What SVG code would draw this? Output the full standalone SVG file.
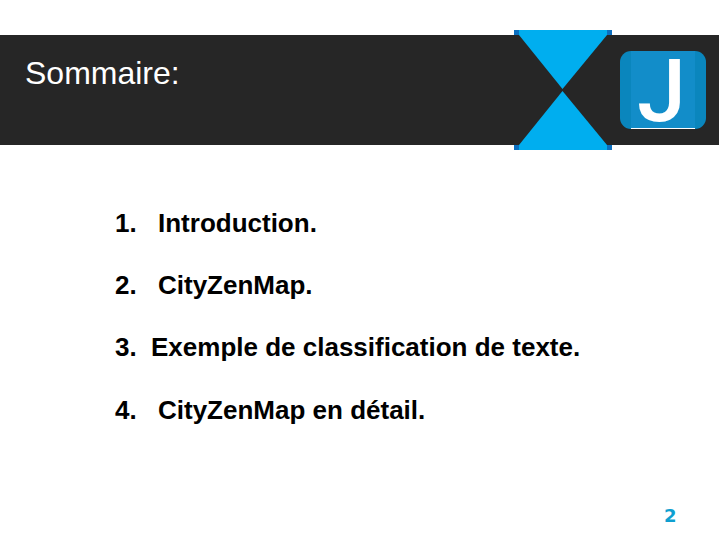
<svg xmlns="http://www.w3.org/2000/svg" width="720" height="540" viewBox="0 0 720 540">
<style>
.b{font-family:"Liberation Sans",Arial,sans-serif;font-size:26px;font-weight:700;fill:#000}
.t{fill:#00aeef}
.c{fill:#0b6fc0}
</style>
<rect width="720" height="540" fill="#fff"/>
<g id="header">
<rect x="0" y="35" width="719" height="110" fill="#262626"/>
<text x="25" y="84" font-family="Liberation Sans,Arial,sans-serif" font-size="32" fill="#fff">Sommaire:</text>
</g>
<g id="hourglass">
<rect class="c" x="514" y="30" width="98" height="5"/>
<rect class="c" x="514" y="145" width="98" height="5"/>
<polygon class="t" points="519,30 607,30 607,35 562.5,89 519,35"/>
<polygon class="t" points="562.5,91 607,145 607,150 519,150 519,145"/>
</g>
<g id="logo">
<rect x="620" y="51" width="86" height="78" rx="11" fill="#0a86bd"/>
<rect x="631" y="51" width="64" height="78" fill="#128dc9"/>
<rect x="631" y="128" width="64" height="1" fill="#fff"/>
<text x="637" y="120.5" font-family="Roboto,sans-serif" font-size="88" font-weight="500" fill="#fff">J</text>
</g>
<g id="items">
<text class="b" x="115" y="232">1.</text><text class="b" x="158" y="232">Introduction.</text>
<text class="b" x="115" y="294">2.</text><text class="b" x="158" y="294">CityZenMap.</text>
<text class="b" x="115" y="356">3.</text><text class="b" x="151" y="356">Exemple de classification de texte.</text>
<text class="b" x="115" y="419">4.</text><text class="b" x="158" y="419">CityZenMap en détail.</text>
</g>
<text id="page" x="664" y="522" font-family="DejaVu Sans,sans-serif" font-size="18" font-weight="700" fill="#0f9fd0">2</text>
</svg>
